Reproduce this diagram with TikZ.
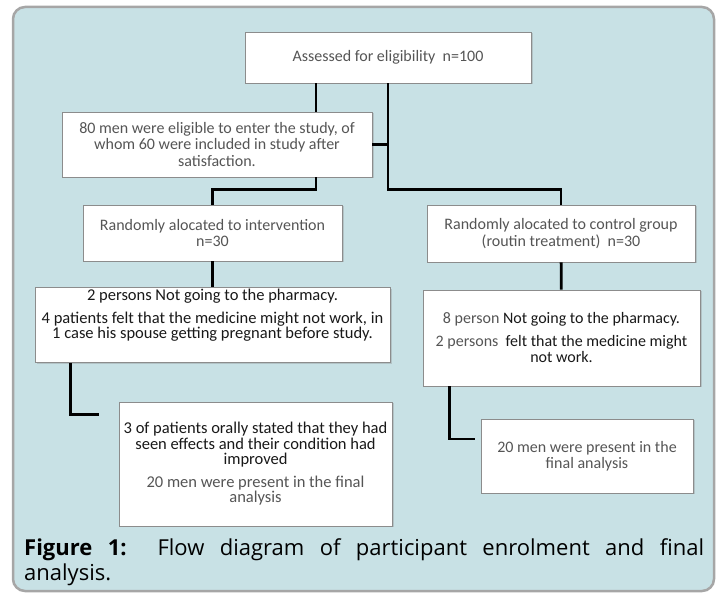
\documentclass[tikz,border=0pt]{standalone}
\usepackage{fontspec}
\setmainfont{Carlito}
\newfontfamily\capfont{Open Sans}
\usetikzlibrary{shadows}
\definecolor{panelfill}{RGB}{200,225,229}
\definecolor{panelrule}{RGB}{166,166,166}
\definecolor{boxrule}{RGB}{140,140,140}
\definecolor{softtext}{RGB}{85,85,85}
\definecolor{hardtext}{RGB}{25,25,25}
\tikzstyle{block} = [rectangle, draw=boxrule, fill=white, line width=0.8pt, text centered, align=center, text=softtext, inner sep=2pt, font=\fontsize{16}{16.5}\selectfont, drop shadow={shadow xshift=1.5pt, shadow yshift=-1.5pt, opacity=0.3}]
\tikzstyle{bigblock} = [block, font=\fontsize{16.5}{15.5}\selectfont]
\tikzstyle{link} = [line width=2.8pt, black]

\begin{document}
\begin{tikzpicture}[x=1pt, y=-1pt, node distance=87pt]
\useasboundingbox (0,0) rectangle (718,593);
\draw [panelrule, fill=panelfill, line width=2.5pt, rounded corners=12pt] (13,7) rectangle (714,591);

\node (assess) [block, minimum width=286pt, minimum height=51pt] at (388,57.5) {Assessed for eligibility\ \ n=100};

\node (elig) [block, below of=assess, xshift=-171pt, minimum width=310pt, minimum height=65pt] {80 men were eligible to enter the study, of\\whom 60 were included in study after\\satisfaction.};

\node (interv) [block, below of=elig, xshift=-4.5pt, yshift=-1.5pt, minimum width=259pt, minimum height=56pt] {Randomly alocated to intervention\\n=30};

\node (control) [block, below of=assess, xshift=173pt, yshift=-89pt, minimum width=268pt, minimum height=57pt] {Randomly alocated to control group\\(routin treatment)\ \ n=30};

\node (dropi) [bigblock, below of=interv, yshift=-5pt, minimum width=355pt, minimum height=74pt, text=hardtext] {2 persons Not going to the pharmacy.\\[7pt]4 patients felt that the medicine might not work, in\\1 case his spouse getting pregnant before study.\\[6pt]};

\node (dropc) [block, below of=control, xshift=0.5pt, yshift=-17.5pt, minimum width=277pt, minimum height=96pt] {8 person {\color{hardtext}Not going to the pharmacy.}\\[6pt]2 persons\ \ {\color{hardtext}felt that the medicine might}\\{\color{hardtext}not work.}};

\node (fini) [bigblock, below of=dropi, xshift=43pt, yshift=-52pt, minimum width=273pt, minimum height=124pt] {{\color{hardtext}3 of patients orally stated that they had}\\{\color{hardtext}seen effects and their condition had}\\{\color{hardtext}improved}\\[7pt]20 men were present in the final\\analysis};

\node (finc) [block, below of=dropc, xshift=25.5pt, yshift=-31pt, minimum width=212pt, minimum height=74pt] {20 men were present in the\\final analysis};

\coordinate (turni) at ([xshift=-20pt, yshift=-13pt]fini.north west);
\coordinate (turnc) at ([xshift=-6pt, yshift=17pt]finc.west);

\draw [link] ([xshift=-72pt]assess.south) -- ([xshift=-72pt]assess.south |- elig.north);
\draw [link] (assess.south) -- ++(0,106) -| (control.north);
\draw [link] (elig.east) -- (elig.east -| assess.south);
\draw [link] ([xshift=99pt]elig.south) -- ++(0,12) -| (interv.north);
\draw [link] (interv) -- (dropi);
\draw [link] (control) -- (dropc);
\draw [link] ([xshift=36pt]dropi.south west) |- (turni);
\draw [link] ([xshift=27pt]dropc.south west) |- (turnc);

\node (caption) [anchor=base west, text width=680pt, align=justify, inner sep=0pt, text=black, font=\capfont\fontsize{22}{25}\selectfont] at (24,555) {\textbf{Figure 1:}\ \ Flow diagram of participant enrolment and final\linebreak analysis.};
\end{tikzpicture}
\end{document}
